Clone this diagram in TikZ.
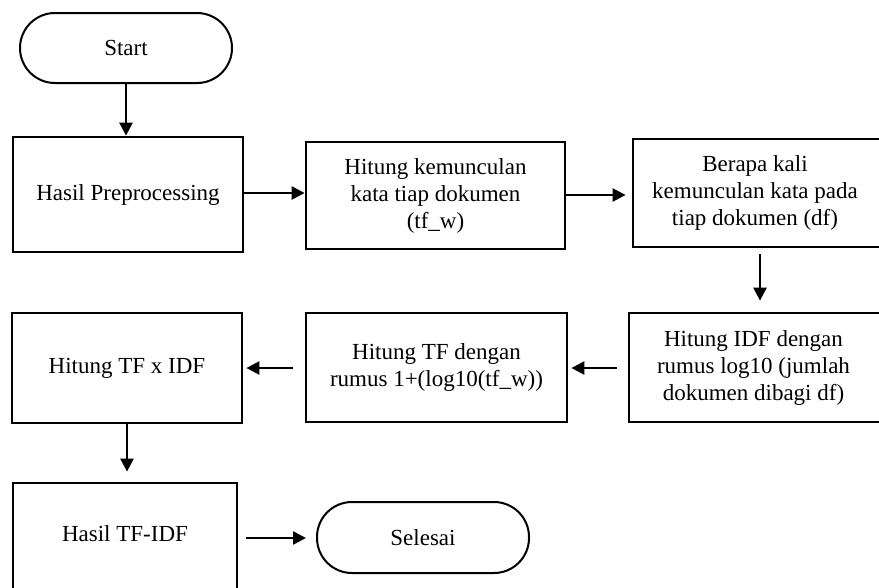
\documentclass[tikz,border=0pt]{standalone}
\usepackage{fontspec}
\setmainfont{Liberation Serif}
\usetikzlibrary{arrows.meta}
\begin{document}
\begin{tikzpicture}[x=1pt,y=-1pt,
  box/.style={draw,line width=2.8pt,rectangle,align=center,font=\fontsize{23}{27}\selectfont,inner sep=0pt},
  term/.style={draw,line width=2pt,rectangle,rounded corners=35pt,align=center,font=\fontsize{23}{27}\selectfont,inner sep=0pt},
  arr/.style={line width=2.5pt,-{Triangle[length=13pt,width=13pt]}}]
\path[use as bounding box,clip] (0,0) rectangle (879,587);
\node[term,minimum width=212pt,minimum height=70pt] (start) at (126,48) {Start};
\node[box,minimum width=230pt,minimum height=115pt] (hp) at (128,194.5) {Hasil Preprocessing};
\node[box,minimum width=259pt,minimum height=107pt] (kem) at (435.5,195.5) {Hitung kemunculan\\kata tiap dokumen\\(tf\_w)};
\node[box,minimum width=260pt,minimum height=108pt] (ber) at (763,193) {};
\node[font=\fontsize{23}{27}\selectfont,align=center] (bert) at (755,193) {Berapa kali\\kemunculan kata pada\\tiap dokumen (df)};
\node[box,minimum width=264pt,minimum height=109pt] (idf) at (761,367.5) {};
\node[font=\fontsize{23}{27}\selectfont,align=center] (idft) at (753.5,367.5) {Hitung IDF dengan\\rumus log10 (jumlah\\dokumen dibagi df)};
\node[box,minimum width=261pt,minimum height=109pt] (tf) at (436.5,367.5) {Hitung TF dengan\\rumus 1+(log10(tf\_w))};
\node[box,minimum width=230pt,minimum height=110pt] (tfidf) at (127,368) {Hitung TF x IDF};
\node[box,minimum width=224pt,minimum height=112pt] (hasil) at (125,539) {};
\node[font=\fontsize{23}{27}\selectfont] (hasilt) at (125,534) {Hasil TF-IDF};
\node[term,minimum width=212pt,minimum height=71pt] (sel) at (423,537.5) {Selesai};
\draw[arr] (start.south) -- (start.south |- hp.north);
\draw[arr] (hp.east |- 0,193) -- (kem.west |- 0,193);
\draw[arr,shorten >=6pt] (kem.east |- 0,195) -- (ber.west |- 0,195);
\draw[arr,shorten <=6pt,shorten >=11pt] (ber.south -| 760,0) -- (idf.north -| 760,0);
\draw[arr,shorten <=11pt,shorten >=3pt] (idf.west |- 0,368) -- (tf.east |- 0,368);
\draw[arr,shorten <=12pt,shorten >=3pt] (tf.west |- 0,368) -- (tfidf.east |- 0,368);
\draw[arr,shorten >=10pt] (tfidf.south -| 127,0) -- (hasil.north -| 127,0);
\draw[arr,shorten <=8pt,shorten >=10pt] (hasil.east |- 0,538) -- (sel.west |- 0,538);
\end{tikzpicture}
\end{document}
